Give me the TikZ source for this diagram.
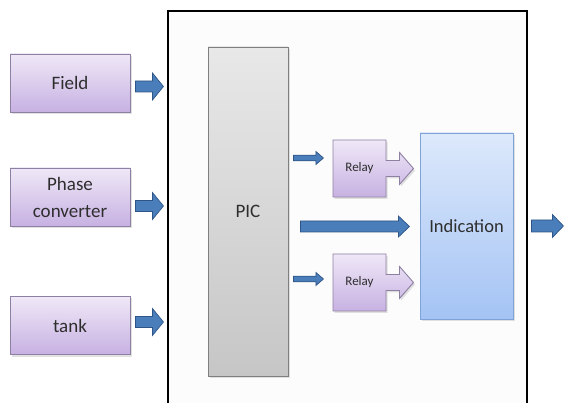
\documentclass[tikz,border=0pt]{standalone}
\usepackage{fontspec}
\setmainfont{Carlito}
\usetikzlibrary{calc}

\definecolor{txt}{HTML}{2E2E2E}
\definecolor{lilacTop}{HTML}{EFE8F7}
\definecolor{lilacBot}{HTML}{C7B1E2}
\definecolor{lilacLine}{HTML}{8E80A3}
\definecolor{blueFill}{HTML}{4A7EBB}
\definecolor{blueLine}{HTML}{2F5587}
\definecolor{indTop}{HTML}{DDE9FB}
\definecolor{indBot}{HTML}{A4C3F4}
\definecolor{indLine}{HTML}{7FA3D6}
\definecolor{picTop}{HTML}{E8E8E8}
\definecolor{picBot}{HTML}{C6C6C6}
\definecolor{picLine}{HTML}{7F7F7F}
\definecolor{panel}{HTML}{FCFCFC}
\definecolor{shadowc}{HTML}{C4C4C4}

\tikzset{
  x=1pt, y=-1pt,
  lilacbox/.style={draw=lilacLine, line width=0.9pt, top color=lilacTop, bottom color=lilacBot,
    minimum width=120pt, minimum height=58pt, inner sep=0pt, text=txt,
    font=\fontsize{19}{27}\selectfont, align=center},
  boxshadow/.style={fill=shadowc, opacity=0.5},
  blockarrow/.style={fill=blueFill, draw=blueLine, line width=0.7pt, line join=miter},
  relayarrow/.style={draw=lilacLine, line width=0.9pt, top color=lilacTop, bottom color=lilacBot},
  relaytext/.style={text=txt, font=\fontsize{13}{14}\selectfont, inner sep=0pt,
    minimum width=53pt, minimum height=57pt},
  % block arrow pointing right, starting at the pic origin
  barrow/.pic={\filldraw[blockarrow]
     (0,-\bsh) -- (\blen-\bhl,-\bsh) -- (\blen-\bhl,-\bhh) -- (\blen,0)
     -- (\blen-\bhl,\bhh) -- (\blen-\bhl,\bsh) -- (0,\bsh) -- cycle;},
  % relay body with its outgoing arrow, origin at the body centre
  relayshape/.pic={
    \fill[boxshadow] (-25,-26.5) -- (28,-26.5) -- (28,-6) -- (41.5,-6) -- (41.5,-14)
      -- (55.5,2) -- (41.5,18) -- (41.5,10) -- (28,10) -- (28,30.5) -- (-25,30.5) -- cycle;
    \path[relayarrow] (-26.5,-28.5) -- (26.5,-28.5) -- (26.5,-8) -- (40,-8) -- (40,-16)
      -- (54,0) -- (40,16) -- (40,8) -- (26.5,8) -- (26.5,28.5) -- (-26.5,28.5) -- cycle;}
}
\newcommand\arrowdims[4]{\def\blen{#1}\def\bsh{#2}\def\bhh{#3}\def\bhl{#4}}

\begin{document}
\begin{tikzpicture}
\clip (0,0) rectangle (565,403);
\fill[white] (0,0) rectangle (565,403);

% main panel
\draw[line width=2.4pt, fill=panel] (168,11) rectangle (527,420);

% input boxes with their shadows
\foreach \yy in {83,197,325.5}{\fill[boxshadow] (11.5,\yy-27) rectangle (131.5,\yy+31);}
\node[lilacbox] (field) at (70,83) {Field};
\node[lilacbox] (phase) at (70,197) {Phase\\converter};
\node[lilacbox] (tank)  at (70,325.5) {tank};

% controller column
\fill[boxshadow] (209.5,49) rectangle (289.5,378);
\node[draw=picLine, line width=0.9pt, top color=picTop, bottom color=picBot,
      minimum width=80pt, minimum height=329pt, inner sep=0pt, text=txt,
      font=\fontsize{19}{22}\selectfont] (pic) at (248,211.5) {PIC};

% indication column
\fill[boxshadow] (421.5,135) rectangle (514.5,321);
\node[draw=indLine, line width=0.9pt, top color=indTop, bottom color=indBot,
      minimum width=93pt, minimum height=186pt, inner sep=0pt, text=txt,
      font=\fontsize{18.5}{22}\selectfont] (ind) at (466.5,226) {Indication};

% relays
\coordinate (r1c) at (359.5,168.5);
\coordinate (r2c) at (359.5,282.5);
\pic at (r1c) {relayshape};
\pic at (r2c) {relayshape};
\node[relaytext] (r1) at (r1c) {Relay};
\node[relaytext] (r2) at (r2c) {Relay};

% arrows from the inputs into the panel
\arrowdims{28}{5.5}{13.5}{11}
\pic at ($(field.east)+(5,3.5)$) {barrow};
\pic at ($(phase.east)+(5,9)$) {barrow};
\pic at ($(tank.east)+(5,-3.5)$) {barrow};

% arrows from the controller to the relays
\arrowdims{30}{2.8}{6.5}{7.5}
\pic at ($(pic.east |- r1.west)+(5,-10.5)$) {barrow};
\pic at ($(pic.east |- r2.west)+(5,-3.5)$) {barrow};

% direct arrow from the controller to the indication
\arrowdims{109}{5.5}{10.5}{11}
\pic at ($(pic.east |- ind.west)+(12,0.5)$) {barrow};

% output arrow
\arrowdims{32}{6}{11.5}{11}
\pic at ($(ind.east)+(18,0)$) {barrow};
\end{tikzpicture}
\end{document}
